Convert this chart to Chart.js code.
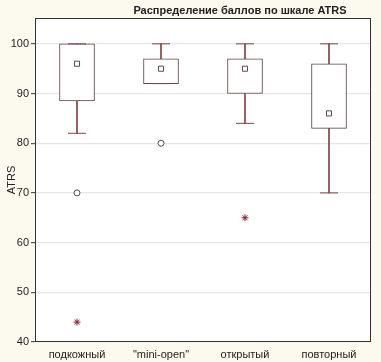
<!DOCTYPE html>
<html>
<head>
<meta charset="utf-8">
<script src="https://cdn.jsdelivr.net/npm/chart.js@4"></script>
<style>
html,body{margin:0;padding:0;background:#FCF9EF;}
#wrap{width:381px;height:362px;}
</style>
</head>
<body>
<div id="wrap"><canvas id="c" width="381" height="362"></canvas></div>
<script>
const categories = ['подкожный', '"mini-open"', 'открытый', 'повторный'];
const q1 = [88.5, 92, 90, 83];
const q3 = [100, 97, 97, 96];
const whiskerLow = [82, 92, 84, 70];
const whiskerHigh = [100, 100, 100, 100];
const medians = [96, 95, 95, 86];
const outliers = [70, 80, null, null];
const extremes = [44, null, 65, null];
const yTicks = [40, 50, 60, 70, 80, 90, 100];
const titleText = 'Распределение баллов по шкале ATRS';

const boxColor = '#5e4646';
const whiskerColor = '#7e4444';
const starColor = '#8a1a2e';
const FONT = "'Liberation Sans', Arial, sans-serif";

const bgPlugin = {
  id: 'bg',
  beforeDraw(chart) {
    const {ctx, chartArea: a} = chart;
    ctx.save();
    ctx.fillStyle = '#FCF9EF';
    ctx.fillRect(0, 0, chart.width, chart.height);
    ctx.fillStyle = '#ffffff';
    ctx.fillRect(a.left, a.top, a.right - a.left, a.bottom - a.top);
    ctx.restore();
  },
  afterDraw(chart) {
    const {ctx, chartArea: a} = chart;
    ctx.save();
    ctx.strokeStyle = '#333';
    ctx.lineWidth = 1;
    ctx.strokeRect(Math.round(a.left) + 0.5, Math.round(a.top) + 0.5, Math.round(a.right - a.left) - 1, Math.round(a.bottom - a.top) - 1);
    ctx.font = 'bold 11px ' + FONT;
    ctx.fillStyle = '#222';
    ctx.textAlign = 'center';
    ctx.textBaseline = 'middle';
    ctx.fillText(titleText, 240, 11);
    ctx.restore();
  }
};

const lineDs = (data, style, radius, color, fill, extra) => Object.assign({
  type: 'line', data, showLine: false, pointStyle: style, pointRadius: radius,
  pointHoverRadius: radius, pointBorderColor: color, pointBackgroundColor: fill,
  pointBorderWidth: 1, order: 0
}, extra || {});

new Chart(document.getElementById('c'), {
  type: 'bar',
  data: {
    labels: categories,
    datasets: [
      { data: categories.map((c, i) => [q1[i], q3[i]]), backgroundColor: '#ffffff',
        borderColor: boxColor, borderWidth: 1, borderSkipped: false, barThickness: 35,
        grouped: false, order: 2 },
      { data: categories.map((c, i) => [whiskerLow[i], q1[i]]), backgroundColor: whiskerColor,
        borderWidth: 0, barThickness: 1, grouped: false, order: 3 },
      { data: categories.map((c, i) => [q3[i], whiskerHigh[i]]), backgroundColor: whiskerColor,
        borderWidth: 0, barThickness: 1, grouped: false, order: 3 },
      lineDs(whiskerLow, 'line', 9, whiskerColor, whiskerColor, {order: 1}),
      lineDs(whiskerHigh, 'line', 9, whiskerColor, whiskerColor, {order: 1}),
      lineDs(medians, 'rect', 3.6, boxColor, '#ffffff'),
      lineDs(outliers, 'circle', 3, boxColor, '#ffffff'),
      lineDs(extremes, 'star', 3.5, starColor, starColor, {pointBorderWidth: 1})
    ]
  },
  options: {
    responsive: false,
    animation: false,
    events: [],
    layout: { padding: { top: 18, right: 4, left: 0, bottom: 0 } },
    plugins: { legend: { display: false }, tooltip: { enabled: false }, title: { display: false } },
    scales: {
      x: {
        type: 'category',
        offset: true,
        afterFit(s) { s.height = 20; },
        grid: { display: true, drawOnChartArea: false, drawTicks: false, color: '#333' },
        border: { display: false },
        ticks: { color: '#222', font: { family: FONT, size: 11 }, padding: 6, maxRotation: 0, autoSkip: false }
      },
      y: {
        min: 40, max: 105.2,
        afterFit(s) { s.width = 35; },
        afterBuildTicks(s) { s.ticks = yTicks.map(v => ({ value: v })); },
        grid: { color: '#e6e6e6', tickColor: '#555', tickLength: 4, lineWidth: 1.2 },
        border: { display: false },
        title: { display: true, text: 'ATRS', color: '#222', font: { family: FONT, size: 11 }, padding: { top: 5, bottom: 0 } },
        ticks: { color: '#222', font: { family: FONT, size: 11 }, padding: 2 }
      }
    }
  },
  plugins: [bgPlugin]
});
</script>
</body>
</html>
